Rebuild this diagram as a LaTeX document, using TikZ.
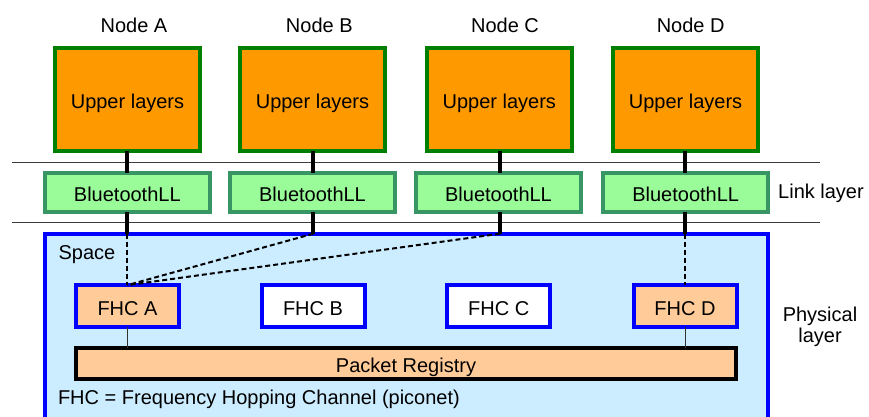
\documentclass[tikz,border=0pt]{standalone}
\usepackage{fontspec}
\setmainfont{Liberation Sans}
\begin{document}
\begin{tikzpicture}[x=1pt,y=-1pt,
  every node/.style={font=\fontsize{20}{21}\selectfont, inner sep=0pt, outer sep=0pt},
  boxtext/.style={text height=18pt, text depth=0pt},
  upperbox/.style={boxtext, draw={rgb,255:red,0;green,128;blue,0}, line width=4pt, fill={rgb,255:red,255;green,153;blue,0}, minimum width=145pt, minimum height=103pt},
  bllbox/.style={boxtext, draw={rgb,255:red,56;green,150;blue,100}, line width=4pt, fill={rgb,255:red,153;green,252;blue,153}, minimum width=164.7pt, minimum height=39.6pt},
  fhcbox/.style={boxtext, draw={rgb,255:red,0;green,0;blue,255}, line width=4pt, minimum width=103pt, minimum height=41.7pt},
  fhcon/.style={fhcbox, fill={rgb,255:red,255;green,204;blue,153}},
  fhcoff/.style={fhcbox, fill=white},
  lbl/.style={anchor=base},
  thickln/.style={line width=4pt},
  dashln/.style={line width=2pt, dash pattern=on 5pt off 3pt},
  sepln/.style={line width=1pt, draw={rgb,255:red,60;green,60;blue,60}},
  thinln/.style={line width=1pt, draw={rgb,255:red,50;green,50;blue,50}}
]
\useasboundingbox (0,0) rectangle (869,416);
\clip (0,0) rectangle (869,416);
\fill[white] (0,0) rectangle (869,416);

% separator lines
\coordinate (l1a) at (12,162);
\coordinate (l1b) at (820,162);
\coordinate (l2a) at (12,222);
\coordinate (l2b) at (820,222);
\draw[sepln] (l1a) -- (l1b);
\draw[sepln] (l2a) -- (l2b);

% space
\node[draw={rgb,255:red,0;green,0;blue,255}, line width=4pt, fill={rgb,255:red,204;green,236;blue,255}, minimum width=723.3pt, minimum height=220pt, anchor=north west] (space) at (44.7,233.7) {};
\node[lbl] (spacelbl) at (87,259.3) {Space};

% upper layers
\node[upperbox] (uA) at (127.5,99.5) {Upper layers};
\node[upperbox] (uB) at (312.5,99.5) {Upper layers};
\node[upperbox] (uC) at (499.3,99.5) {Upper layers};
\node[upperbox] (uD) at (685.5,99.5) {Upper layers};
\node[lbl] (nA) at (134,32.3) {Node A};
\node[lbl] (nB) at (319.3,32.3) {Node B};
\node[lbl] (nC) at (505,32.3) {Node C};
\node[lbl] (nD) at (690.7,32.3) {Node D};

% link layer
\node[bllbox] (bA) at (127.3,192.5) {BluetoothLL};
\node[bllbox] (bB) at (312.5,192.5) {BluetoothLL};
\node[bllbox] (bC) at (498.5,192.5) {BluetoothLL};
\node[bllbox] (bD) at (685.7,192.5) {BluetoothLL};
\node[lbl] (link) at (821,198.3) {Link layer};
\node[lbl] (phys1) at (820,321.7) {Physical};
\node[lbl] (phys2) at (820,342.8) {layer};

% FHC
\node[fhcon] (fA) at (127.5,306) {FHC A};
\node[fhcoff] (fB) at (313,306) {FHC B};
\node[fhcoff] (fC) at (498.7,306) {FHC C};
\node[fhcon] (fD) at (685,306) {FHC D};

% registry
\node[boxtext, draw=black, line width=4pt, fill={rgb,255:red,255;green,204;blue,153}, minimum width=660pt, minimum height=31pt] (reg) at (406,363.2) {Packet Registry};
\node[anchor=base west] (legend) at (58,404) {FHC = Frequency Hopping Channel (piconet)};

% attach points on space top
\coordinate (pA) at (127.3,233.7);
\coordinate (pB) at (313.2,233.7);
\coordinate (pC) at (500,233.7);
\coordinate (pD) at (685.3,233.7);

% thick vertical connectors
\draw[thickln] (bA.south -| pA) -- (pA);
\draw[thickln] (bB.south -| pB) -- (pB);
\draw[thickln] (bC.south -| pC) -- (pC);
\draw[thickln] (bD.south -| pD) -- (pD);
\draw[thickln] (uA.south -| pA) -- (bA.north -| pA);
\draw[thickln] (uB.south -| pB) -- (bB.north -| pB);
\draw[thickln] (uC.south -| pC) -- (bC.north -| pC);
\draw[thickln] (uD.south -| pD) -- (bD.north -| pD);

% dashed links
\draw[dashln] (pA) -- (fA.north -| pA);
\draw[dashln] (pB) -- (fA.north -| pA);
\draw[dashln] (pC) -- (fA.north -| pA);
\draw[dashln] (pD) -- (fD.north -| pD);

% thin links to registry
\draw[thinln] (fA.south -| pA) -- (reg.north -| pA);
\draw[thinln] (fD.south -| pD) -- (reg.north -| pD);
\end{tikzpicture}
\end{document}
